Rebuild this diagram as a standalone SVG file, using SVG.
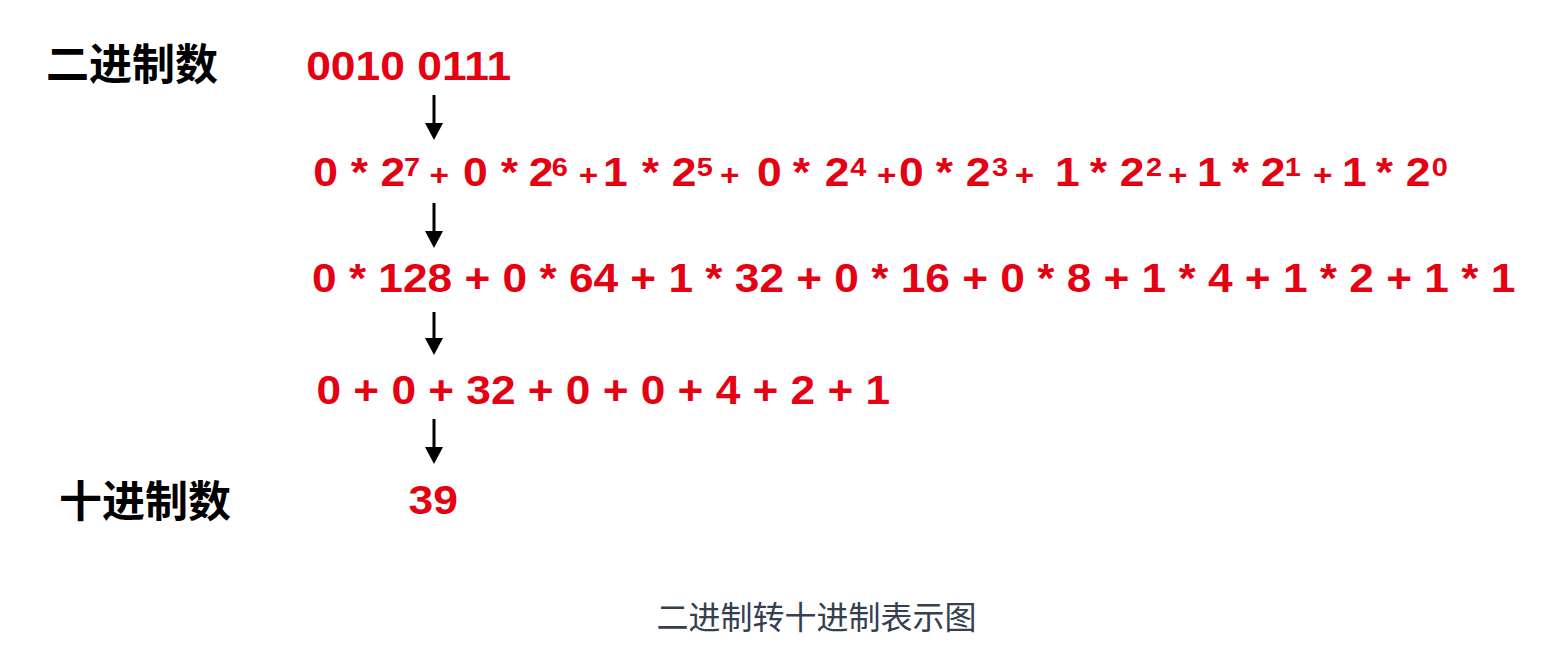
<svg xmlns="http://www.w3.org/2000/svg" width="1560" height="654" viewBox="0 0 1560 654">
<style>
.lbl{font-family:"Noto Sans CJK SC","Liberation Sans",sans-serif;font-weight:bold;font-size:43px;fill:#000}
.red{font-family:"Liberation Sans",Arial,sans-serif;font-weight:bold;font-size:40px;fill:#e50012}
.sup{font-size:26px}
.pl{font-size:30px}
.cap{font-family:"Noto Sans CJK SC","Liberation Sans",sans-serif;font-size:32px;fill:#34404e;text-anchor:middle}
.arr{stroke:#000;stroke-width:3;fill:none}
</style>
<defs>
<marker id="ah" viewBox="0 0 17 18" markerWidth="17" markerHeight="18" refX="0" refY="9" orient="auto" markerUnits="userSpaceOnUse">
<path d="M0,0 L17,9 L0,18 z" fill="#000"/>
</marker>
</defs>
<rect width="1560" height="654" fill="#fff"/>
<g id="label-binary"><text class="lbl" x="46" y="80">二进制数</text></g>
<g id="label-decimal"><text class="lbl" x="59" y="517">十进制数</text></g>
<g transform="scale(1.11 1)">
<g id="row-binary"><text class="red" x="275.8" y="80.5">0010 0111</text></g>
<g id="row-powers"><text class="red" y="186"><tspan x="282.1">0</tspan><tspan x="315.9">*</tspan><tspan x="342.7">2</tspan><tspan class="sup" x="364.0" y="176">7</tspan><tspan class="pl" x="387.0" y="185">+</tspan><tspan x="417.2" y="186">0</tspan><tspan x="451.1">*</tspan><tspan x="476.3">2</tspan><tspan class="sup" x="497.1" y="176">6</tspan><tspan class="pl" x="521.3" y="185">+</tspan><tspan x="543.2" y="186">1</tspan><tspan x="578.1">*</tspan><tspan x="605.1">2</tspan><tspan class="sup" x="627.7" y="176">5</tspan><tspan class="pl" x="648.6" y="185">+</tspan><tspan x="682.1" y="186">0</tspan><tspan x="714.1">*</tspan><tspan x="743.0">2</tspan><tspan class="sup" x="766.1" y="176">4</tspan><tspan class="pl" x="790.0" y="185">+</tspan><tspan x="810.0" y="186">0</tspan><tspan x="843.0">*</tspan><tspan x="870.0">2</tspan><tspan class="sup" x="893.6" y="176">3</tspan><tspan class="pl" x="914.3" y="185">+</tspan><tspan x="950.4" y="186">1</tspan><tspan x="981.7">*</tspan><tspan x="1008.7">2</tspan><tspan class="sup" x="1032.4" y="176">2</tspan><tspan class="pl" x="1052.2" y="185">+</tspan><tspan x="1078.4" y="186">1</tspan><tspan x="1109.6">*</tspan><tspan x="1135.8">2</tspan><tspan class="sup" x="1157.5" y="176">1</tspan><tspan class="pl" x="1182.8" y="185">+</tspan><tspan x="1209.0" y="186">1</tspan><tspan x="1239.4">*</tspan><tspan x="1266.4">2</tspan><tspan class="sup" x="1289.8" y="176">0</tspan></text></g>
<g id="row-values"><text class="red" x="281.1" y="292.5" textLength="1084" lengthAdjust="spacingAndGlyphs">0 * 128 + 0 * 64 + 1 * 32 + 0 * 16 + 0 * 8 + 1 * 4 + 1 * 2 + 1 * 1</text></g>
<g id="row-sum"><text class="red" x="285.1" y="404.5" textLength="516.8" lengthAdjust="spacingAndGlyphs">0 + 0 + 32 + 0 + 0 + 4 + 2 + 1</text></g>
<g id="row-result"><text class="red" x="368.0" y="514.5">39</text></g>
</g>
<g id="connectors">
<line class="arr" x1="434" y1="95" x2="434" y2="123" marker-end="url(#ah)"/>
<line class="arr" x1="434" y1="203" x2="434" y2="231" marker-end="url(#ah)"/>
<line class="arr" x1="434" y1="312" x2="434" y2="338" marker-end="url(#ah)"/>
<line class="arr" x1="434" y1="419" x2="434" y2="447" marker-end="url(#ah)"/>
</g>
<g id="caption"><text class="cap" x="816.5" y="629">二进制转十进制表示图</text></g>
</svg>
